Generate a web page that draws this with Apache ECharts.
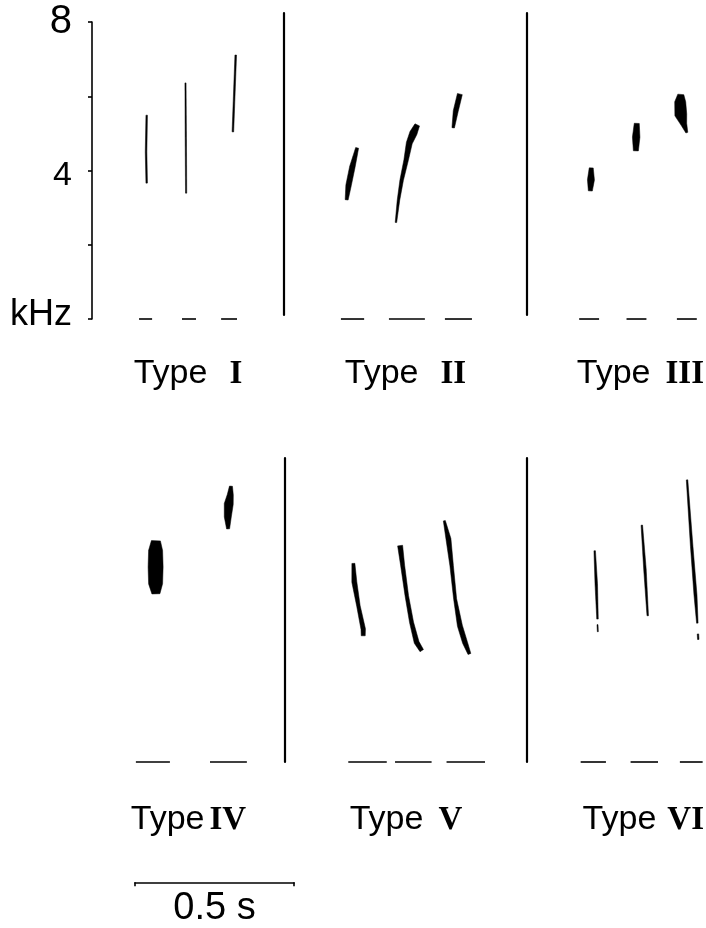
<!DOCTYPE html>
<html>
<head>
<meta charset="utf-8">
<script src="https://cdn.jsdelivr.net/npm/echarts@6/dist/echarts.min.js"></script>
<style>html,body{margin:0;padding:0;background:#fff}#c{width:706px;height:928px}</style>
</head>
<body>
<div id="c"></div>
<script>
// ---------------- DATA (time in s from panel start, frequency in kHz) ----------------
const panelNames = ['I', 'II', 'III', 'IV', 'V', 'VI'];
const yTicks = [0, 2, 4, 6, 8];
const yLabels = {8: '8', 4: '4', 0: 'kHz'};
const scaleBarSeconds = 0.5;
const scaleBarLabel = '0.5 s';

// note centre-lines: [time, kHz]
const typeI = [
  [[0.172, 3.66], [0.170, 4.50], [0.172, 5.49]],
  [[0.296, 3.39], [0.295, 4.90], [0.294, 6.36]],
  [[0.443, 5.04], [0.452, 7.11]]
];
const typeII = [
  [[0.197, 3.21], [0.203, 3.60], [0.215, 4.10], [0.230, 4.61]],
  [[0.352, 2.60], [0.360, 3.20], [0.370, 3.74], [0.384, 4.28], [0.394, 4.74], [0.407, 5.01], [0.419, 5.23]],
  [[0.532, 5.15], [0.540, 5.60], [0.553, 6.06]]
];
const typeIII = [
  [[0.210, 3.45], [0.212, 3.75], [0.213, 4.07]],
  [[0.361, 4.53], [0.362, 4.90], [0.364, 5.27]],
  [[0.530, 5.02], [0.520, 5.25], [0.510, 5.50], [0.508, 5.85], [0.510, 6.05]]
];
const typeIV = [
  [[0.201, 4.53], [0.200, 4.80], [0.200, 5.25], [0.200, 5.70], [0.201, 5.96]],
  [[0.428, 6.28], [0.427, 6.60], [0.430, 6.95], [0.435, 7.20], [0.437, 7.43]]
];
const typeV = [
  [[0.215, 5.35], [0.218, 4.85], [0.231, 4.20], [0.246, 3.58], [0.246, 3.40]],
  [[0.362, 5.83], [0.370, 5.29], [0.383, 4.48], [0.398, 3.76], [0.414, 3.22], [0.430, 3.00]],
  [[0.501, 6.50], [0.514, 6.01], [0.524, 5.29], [0.535, 4.39], [0.550, 3.67], [0.566, 3.22], [0.580, 2.91]]
];
const typeVI = [
  [[0.217, 5.69], [0.222, 4.80], [0.226, 3.85]],
  [[0.226, 3.70], [0.227, 3.51]],
  [[0.368, 6.38], [0.378, 5.20], [0.387, 3.94]],
  [[0.513, 7.60], [0.528, 5.80], [0.540, 4.50], [0.546, 3.74]],
  [[0.548, 3.45], [0.549, 3.30]]
];

// baseline time marks: [start, end] in s
const marksI   = [[0.148, 0.189], [0.283, 0.327], [0.406, 0.456]];
const marksII  = [[0.179, 0.252], [0.330, 0.443], [0.506, 0.591]];
const marksIII = [[0.173, 0.239], [0.330, 0.396], [0.497, 0.563]];
const marksIV  = [[0.138, 0.245], [0.371, 0.487]];
const marksV   = [[0.199, 0.320], [0.346, 0.461], [0.508, 0.629]];
const marksVI  = [[0.172, 0.253], [0.332, 0.420], [0.490, 0.563]];

// ---------------- STYLES / LAYOUT ----------------
// stroke width profile (px) along each note
const widthsI   = [[1.5, 1.6, 1.5], [1.2, 1.3, 1.1], [1.6, 1.6]];
const widthsII  = [[3, 5.5, 5.5, 3], [1.5, 2.5, 3.5, 4.5, 6, 7.5, 5], [2.5, 5, 5]];
const widthsIII = [[4, 7, 4], [5, 7.5, 5], [2, 6, 12, 11, 6]];
const widthsIV  = [[8, 14, 15, 14, 9], [3, 7, 9, 6, 3]];
const widthsV   = [[3, 5, 3.5, 4.5, 4], [5, 4, 3.5, 4, 5, 4], [2, 5, 3.5, 3, 5, 5, 3]];
const widthsVI  = [[1.5, 2.5, 1.5], [1, 1], [1.5, 2.5, 1.5], [1.5, 2.5, 3, 1.5], [1.5, 1.5]];

const PX_PER_S = 318;
const panels = [
  {grid: {left: 92,  top: 22,  width: 192, height: 297}, y: [0, 8],         axis: 'ticks', gap: 22, nameGap: 38, shift: 0},
  {grid: {left: 284, top: 13,  width: 243, height: 302}, y: [0.108, 8.243], axis: 'line',  gap: 22, nameGap: 42, shift: 0},
  {grid: {left: 527, top: 13,  width: 179, height: 302}, y: [0.108, 8.243], axis: 'line',  gap: 15, nameGap: 42, shift: 57},
  {grid: {left: 92,  top: 458, width: 193, height: 304}, y: [0, 8.189],     axis: 'none',  gap: 5,  nameGap: 41, shift: 0},
  {grid: {left: 285, top: 458, width: 242, height: 304}, y: [0, 8.189],     axis: 'line',  gap: 15, nameGap: 41, shift: 0},
  {grid: {left: 527, top: 458, width: 179, height: 304}, y: [0, 8.189],     axis: 'line',  gap: 11, nameGap: 41, shift: 57}
];
const allNotes = [typeI, typeII, typeIII, typeIV, typeV, typeVI];
const allWidths = [widthsI, widthsII, widthsIII, widthsIV, widthsV, widthsVI];
const allMarks = [marksI, marksII, marksIII, marksIV, marksV, marksVI];

const SANS = 'Liberation Sans';
const SERIF = 'Liberation Serif';

function noteRenderer(notes, widths) {
  return function (params, api) {
    const idx = api.value(2);
    const pts = notes[idx].map(p => api.coord(p));
    const w = widths[idx];
    const L = [], R = [];
    for (let k = 0; k < pts.length; k++) {
      const a = pts[Math.max(0, k - 1)], b = pts[Math.min(pts.length - 1, k + 1)];
      const dx = b[0] - a[0], dy = b[1] - a[1];
      const len = Math.hypot(dx, dy) || 1;
      const nx = -dy / len, ny = dx / len, h = w[k] / 2;
      L.push([pts[k][0] + nx * h, pts[k][1] + ny * h]);
      R.push([pts[k][0] - nx * h, pts[k][1] - ny * h]);
    }
    return {
      type: 'polygon',
      shape: {points: L.concat(R.reverse())},
      style: {fill: '#000', stroke: '#000', lineWidth: 0.5}
    };
  };
}

function markRenderer(params, api) {
  const p0 = api.coord([api.value(0), api.value(1)]);
  const p1 = api.coord([api.value(2), api.value(1)]);
  return {
    type: 'line',
    shape: {x1: p0[0], y1: p0[1], x2: p1[0], y2: p1[1]},
    style: {stroke: '#000', lineWidth: 1.6}
  };
}

const grids = [], xAxes = [], yAxes = [], series = [];
panels.forEach((p, i) => {
  grids.push(Object.assign({containLabel: false}, p.grid));
  xAxes.push({
    type: 'value', gridIndex: i, min: 0, max: p.grid.width / PX_PER_S,
    axisLine: {show: false, onZero: false}, axisTick: {show: false},
    axisLabel: {show: false}, splitLine: {show: false},
    name: '{t|Type}{g| }{r|' + panelNames[i] + '}',
    nameLocation: 'middle', nameGap: p.nameGap,
    nameTextStyle: {
      padding: [0, 0, 0, p.shift],
      rich: {
        t: {fontFamily: SANS, fontSize: 34, color: '#000', lineHeight: 34},
        g: {width: p.gap, fontSize: 10, lineHeight: 34},
        r: {fontFamily: SERIF, fontWeight: 'bold', fontSize: 33, color: '#000', lineHeight: 34}
      }
    }
  });
  const y = {
    type: 'value', gridIndex: i, min: p.y[0], max: p.y[1],
    splitLine: {show: false}, axisLabel: {show: false}, axisTick: {show: false},
    axisLine: {show: p.axis !== 'none', onZero: false, lineStyle: {color: '#000', width: 2.2}}
  };
  if (p.axis === 'ticks') {
    y.interval = 2;
    y.axisLine.lineStyle.width = 1.6;
    y.axisTick = {show: true, length: 4, lineStyle: {color: '#000', width: 1.6}};
    y.axisLabel = {
      show: true, margin: 20,
      formatter: v => {
        const s = yLabels[v];
        if (!s) return '';
        return v === 8 ? '{big|' + s + '}' : v === 4 ? '{mid|' + s + '}' : '{unit|' + s + '}';
      },
      rich: {
        big: {fontFamily: SANS, fontSize: 40, color: '#000'},
        mid: {fontFamily: SANS, fontSize: 34, color: '#000', padding: [10, 0, 0, 0]},
        unit: {fontFamily: SANS, fontSize: 36, color: '#000', padding: [0, 0, 8, 0]}
      }
    };
  }
  yAxes.push(y);

  series.push({
    type: 'custom', xAxisIndex: i, yAxisIndex: i, clip: false, silent: true,
    renderItem: noteRenderer(allNotes[i], allWidths[i]),
    data: allNotes[i].map((n, k) => [n[0][0], n[0][1], k])
  });
  series.push({
    type: 'custom', xAxisIndex: i, yAxisIndex: i, clip: false, silent: true,
    renderItem: markRenderer,
    data: allMarks[i].map(m => [m[0], 0, m[1]])
  });
});

// scale bar as its own axis
grids.push({left: 135, top: 882, width: scaleBarSeconds * PX_PER_S, height: 1});
xAxes.push({
  type: 'value', gridIndex: 6, min: 0, max: scaleBarSeconds, interval: scaleBarSeconds,
  axisLine: {show: true, onZero: false, lineStyle: {color: '#000', width: 1.6}},
  axisTick: {show: true, length: 4, lineStyle: {color: '#000', width: 1.6}},
  axisLabel: {show: false}, splitLine: {show: false},
  name: scaleBarLabel, nameLocation: 'middle', nameGap: 7,
  nameTextStyle: {fontFamily: SANS, fontSize: 38, color: '#000', lineHeight: 38, verticalAlign: 'top'}
});
yAxes.push({type: 'value', gridIndex: 6, min: 0, max: 1, show: false});

const chart = echarts.init(document.getElementById('c'), null, {renderer: 'canvas'});
chart.setOption({
  animation: false,
  backgroundColor: '#fff',
  grid: grids, xAxis: xAxes, yAxis: yAxes, series: series
});
</script>
</body>
</html>
